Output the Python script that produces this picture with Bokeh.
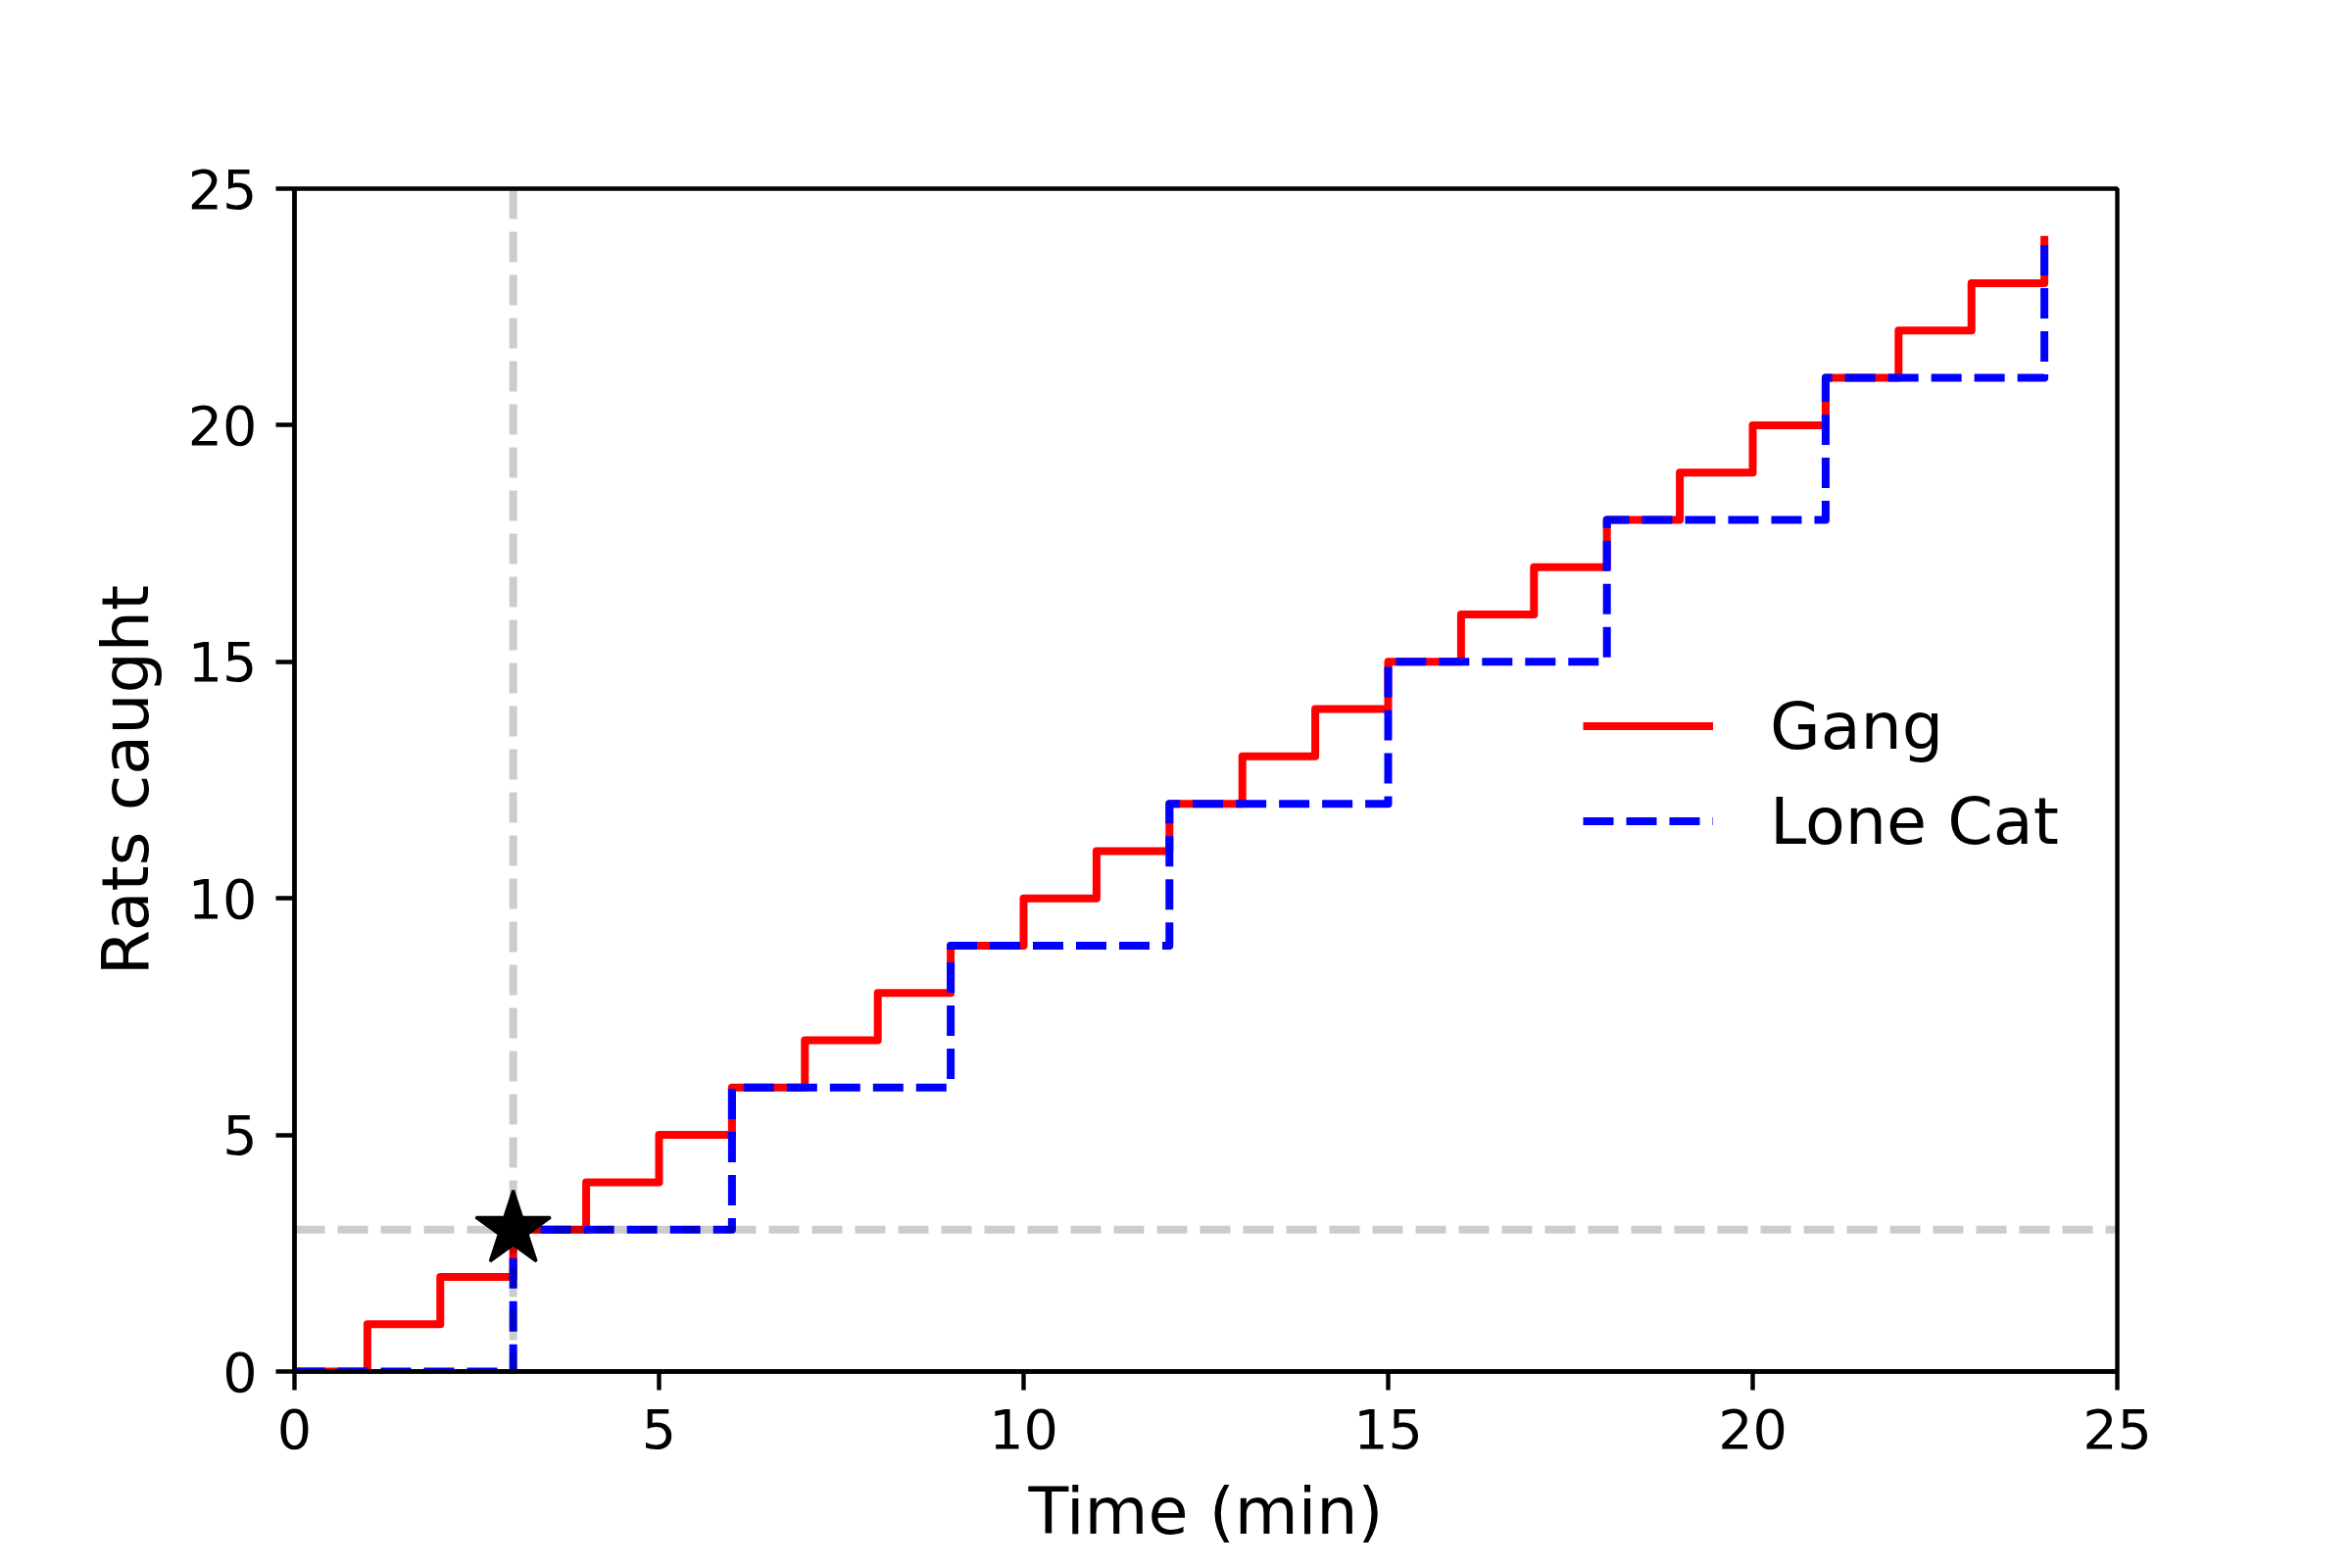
from bokeh.plotting import figure
from bokeh.models import Range1d, Span, FixedTicker, Legend, LegendItem
from bokeh.embed import file_html
from bokeh.resources import INLINE

# Data
gang_time = [0, 1, 2, 3, 4, 5, 6, 7, 8, 9, 10, 11, 12, 13, 14, 15, 16, 17, 18, 19, 20, 21, 22, 23, 24]
gang_rats = [0, 1, 2, 3, 4, 5, 6, 7, 8, 9, 10, 11, 12, 13, 14, 15, 16, 17, 18, 19, 20, 21, 22, 23, 24]
lone_time = [0, 3, 6, 9, 12, 15, 18, 21, 24]
lone_rats = [0, 3, 6, 9, 12, 15, 18, 21, 24]
marker_time = [3]
marker_rats = [3]
ref_time = 3
ref_rats = 3
x_ticks = [0, 5, 10, 15, 20, 25]
y_ticks = [0, 5, 10, 15, 20, 25]

FONT = "DejaVu Sans"

p = figure(width=2384, height=1584, output_backend="svg", toolbar_location=None,
           x_range=Range1d(0, 25), y_range=Range1d(0, 25),
           min_border_left=300, min_border_right=224, min_border_top=192, min_border_bottom=185)
p.background_fill_color = "white"
p.border_fill_color = "white"
p.outline_line_color = "black"
p.outline_line_width = 4.4
p.grid.visible = False

for ax, ticks in ((p.xaxis[0], x_ticks), (p.yaxis[0], y_ticks)):
    ax.ticker = FixedTicker(ticks=ticks)
    ax.minor_tick_line_color = None
    ax.major_tick_out = 19
    ax.major_tick_in = 0
    ax.major_tick_line_width = 4.4
    ax.axis_line_width = 4.4
    ax.major_label_standoff = 19
    ax.major_label_text_font = FONT
    ax.major_label_text_font_size = "55.6px"
    ax.major_label_text_color = "black"
    ax.axis_label_text_font = FONT
    ax.axis_label_text_font_size = "66.7px"
    ax.axis_label_text_font_style = "normal"
    ax.axis_label_text_color = "black"
    ax.axis_label_standoff = 22

p.xaxis.axis_label = "Time (min)"
p.yaxis.axis_label = "Rats caught"

r_gang = p.step(gang_time, gang_rats, mode="after", line_color="#ff0000", line_width=8,
                line_join="round")
r_lone = p.step(lone_time, lone_rats, mode="after", line_color="#0000ff", line_width=8,
                line_dash="31 13", line_join="round")

p.add_layout(Span(location=ref_rats, dimension="width", line_color="black", line_alpha=0.2,
                  line_width=8, line_dash="31 13"))
p.add_layout(Span(location=ref_time, dimension="height", line_color="black", line_alpha=0.2,
                  line_width=8, line_dash="31 13"))

p.scatter(marker_time, marker_rats, marker="star", size=80, fill_color="black", line_color="black",
          line_width=3)

legend = Legend(items=[LegendItem(label="Gang", renderers=[r_gang]),
                       LegendItem(label="Lone Cat", renderers=[r_lone])],
                location=(1315, 513))
legend.border_line_color = None
legend.background_fill_alpha = 0
legend.glyph_width = 133
legend.glyph_height = 97
legend.label_height = 97
legend.spacing = 0
legend.padding = 10
legend.margin = 0
legend.label_standoff = 58
legend.label_text_font = FONT
legend.label_text_font_size = "66.7px"
legend.label_text_color = "black"
p.add_layout(legend)

open("out.html", "w").write(file_html(p, INLINE))
